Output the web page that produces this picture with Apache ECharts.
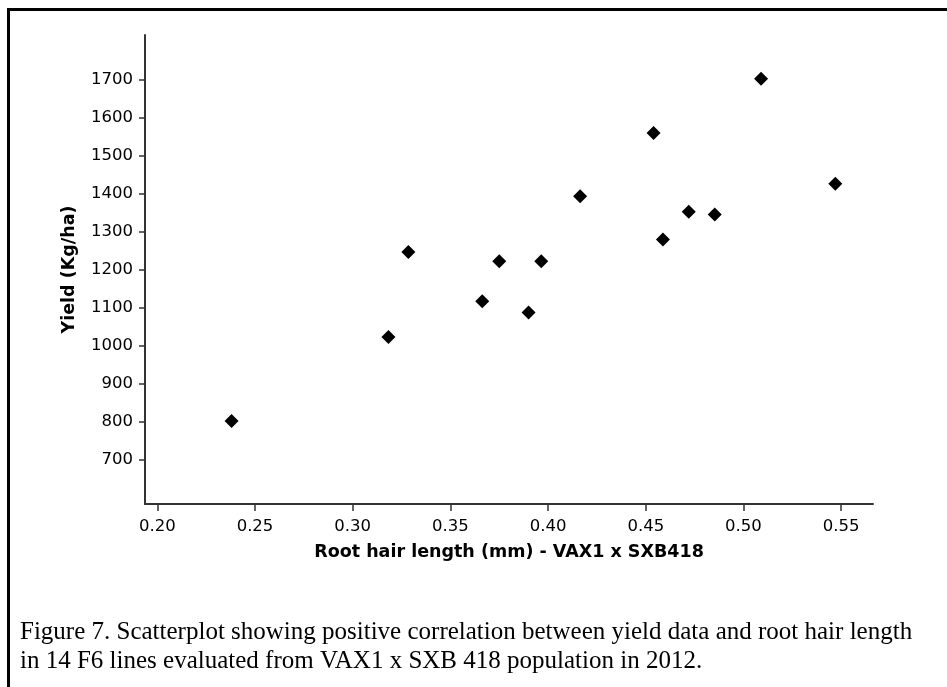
<!DOCTYPE html>
<html>
<head>
<meta charset="utf-8">
<title>Yield vs root hair length</title>
<script src="https://cdn.jsdelivr.net/npm/echarts@6/dist/echarts.min.js"></script>
<style>
    html, body { margin: 0; padding: 0; background: #fff; }
    #chart { width: 947px; height: 687px; }
</style>
</head>
<body>
<div id="chart"></div>
<script>
// root hair length (mm) of the 14 F6 lines
var rootHair = [0.238, 0.3183, 0.3285, 0.3663, 0.375, 0.390, 0.3965, 0.4164, 0.454, 0.4588, 0.472, 0.4853, 0.509, 0.547];
// yield (Kg/ha)
var yieldKg = [802, 1023, 1247, 1117, 1223, 1088, 1223, 1394, 1561, 1280, 1353, 1346, 1704, 1427];

var xTicks = [0.20, 0.25, 0.30, 0.35, 0.40, 0.45, 0.50, 0.55];
var yTicks = [700, 800, 900, 1000, 1100, 1200, 1300, 1400, 1500, 1600, 1700];

var captionLines = [
    'Figure 7. Scatterplot showing positive correlation between yield data and root hair length',
    'in 14 F6 lines evaluated from VAX1 x SXB 418 population in 2012.'
];

var points = rootHair.map(function (x, i) {
    return [x, yieldKg[i]];
});

var axisFont = 'DejaVu Sans, Verdana, sans-serif';
var captionFont = '25px "Liberation Serif", "Times New Roman", serif';

var chart = echarts.init(document.getElementById('chart'), null, { renderer: 'canvas' });
chart.setOption({
    backgroundColor: '#ffffff',
    animation: false,
    grid: {
        left: 145,
        right: 74,
        top: 35,
        bottom: 183
    },
    xAxis: {
        type: 'value',
        min: 0.1937,
        max: 0.5663,
        name: 'Root hair length (mm) - VAX1 x SXB418',
        nameLocation: 'middle',
        nameGap: 39,
        nameTextStyle: {
            color: '#000',
            fontFamily: axisFont,
            fontWeight: 'bold',
            fontSize: 17.5
        },
        splitLine: { show: false },
        axisLine: {
            lineStyle: { color: '#333', width: 2 }
        },
        axisTick: {
            show: true,
            length: 7,
            customValues: xTicks,
            lineStyle: { color: '#333', width: 1.5 }
        },
        axisLabel: {
            customValues: xTicks,
            margin: 14,
            color: '#000',
            fontFamily: axisFont,
            fontSize: 16.5,
            formatter: function (v) {
                return v.toFixed(2);
            }
        }
    },
    yAxis: {
        type: 'value',
        min: 583,
        max: 1819,
        name: 'Yield (Kg/ha)',
        nameLocation: 'middle',
        nameGap: 67,
        nameTextStyle: {
            color: '#000',
            fontFamily: axisFont,
            fontWeight: 'bold',
            fontSize: 17.5
        },
        splitLine: { show: false },
        axisLine: {
            show: true,
            lineStyle: { color: '#333', width: 2 }
        },
        axisTick: {
            show: true,
            length: 6,
            customValues: yTicks,
            lineStyle: { color: '#333', width: 1.5 }
        },
        axisLabel: {
            customValues: yTicks,
            margin: 12,
            color: '#000',
            fontFamily: axisFont,
            fontSize: 16.5,
            formatter: function (v) {
                return String(v);
            }
        }
    },
    series: [{
        type: 'scatter',
        data: points,
        symbol: 'diamond',
        symbolSize: 14,
        itemStyle: {
            color: '#000',
            opacity: 1
        }
    }],
    graphic: [
        {
            // figure frame (right and bottom sides run off the page)
            type: 'rect',
            shape: { x: 8.5, y: 9.5, width: 1000, height: 1000 },
            style: { fill: null, stroke: '#000', lineWidth: 3 },
            silent: true
        },
        {
            type: 'text',
            left: 20,
            top: 620,
            style: {
                text: captionLines[0],
                fill: '#000',
                font: captionFont
            }
        },
        {
            type: 'text',
            left: 20,
            top: 649,
            style: {
                text: captionLines[1],
                fill: '#000',
                font: captionFont
            }
        }
    ]
});
</script>
</body>
</html>
